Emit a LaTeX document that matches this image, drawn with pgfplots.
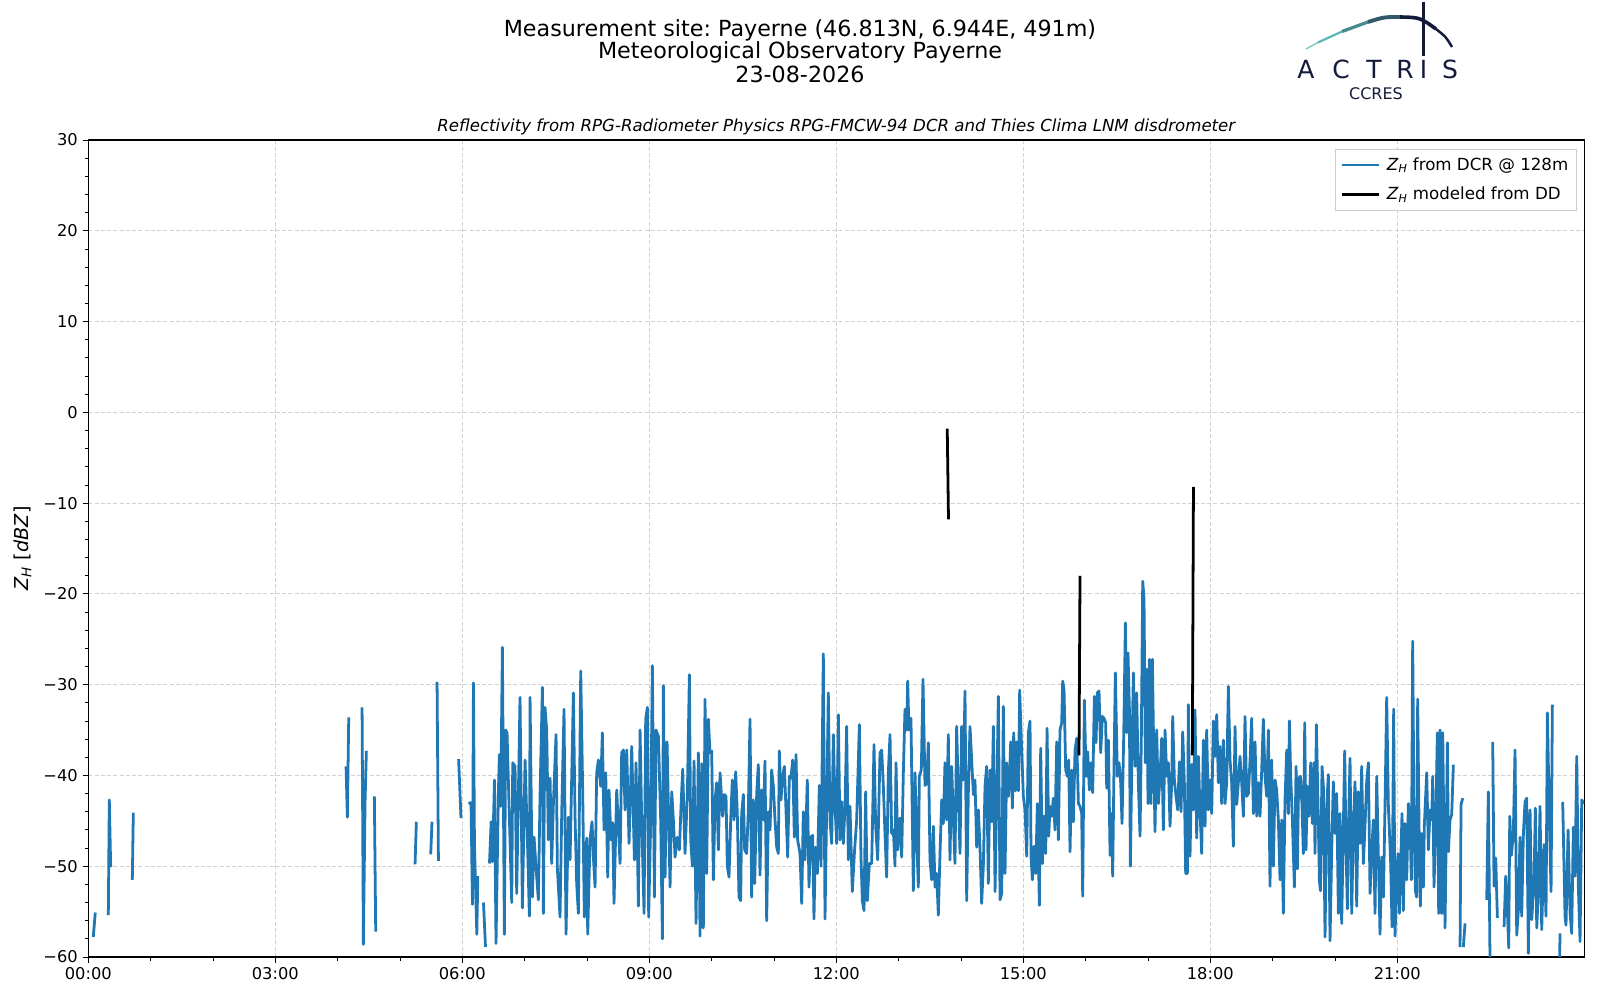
\documentclass[border=0pt]{standalone}
\usepackage{fontspec}
\setmainfont{DejaVu Sans}
\usepackage{pgfplots}
\pgfplotsset{compat=1.18}
\definecolor{mplblue}{HTML}{1F77B4}
\definecolor{navy}{HTML}{141A3A}
\definecolor{tealc}{HTML}{5CB8B2}
\newcommand\mminus{\char"2212\relax}
\frenchspacing
\begin{document}
\begin{tikzpicture}
\useasboundingbox (0,0) rectangle (1152pt,720pt);
\begin{axis}[
  at={(63.58pt,30.96pt)}, anchor=south west,
  width=1077.1pt, height=588.2pt, scale only axis,
  xmin=0, xmax=24, ymin=-60, ymax=30,
  xtick={0,3,...,21},
  xticklabels={00:00,03:00,06:00,09:00,12:00,15:00,18:00,21:00},
  ytick={-60,-50,...,30},
  yticklabels={\mminus60,\mminus50,\mminus40,\mminus30,\mminus20,\mminus10,0,10,20,30},
  minor x tick num=2, minor y tick num=4,
  tick align=outside, tick pos=left,
  major tick length=4.1pt, minor tick length=2.6pt,
  every tick/.style={black, line width=0.6pt},
  axis line style={line width=0.9pt},
  grid=major,
  major grid style={dash pattern=on 3pt off 1.5pt, color=black!18, line width=0.6pt},
  tick label style={font=\fontsize{11.7}{14}\selectfont},
  ylabel={\textit{Z}\textsubscript{\textit{H}} [\textit{dBZ}]},
  every axis y label/.style={at={(rel axis cs:0,0.5)}, anchor=center, rotate=90, yshift=47.4pt, font=\fontsize{13.8}{16}\selectfont},
  unbounded coords=jump,
  legend style={at={(0.9951,0.989)}, anchor=north east, draw=black!20, fill=white,
    font=\fontsize{12}{14}\selectfont, inner xsep=4pt, inner ysep=4pt, row sep=6.5pt, cells={anchor=west}},
  legend image code/.code={\draw[#1, line width=2.1pt, line cap=butt] (0pt,0pt) -- (26pt,0pt); \path (29pt,0pt);},
]
\addplot[mplblue, line width=2pt, line join=round] coordinates {
(0.080,-57.8) (0.112,-55.1) (0.2,nan)
(0.321,-55.4) (0.337,-42.7) (0.359,-50.1) (0.5,nan)
(0.706,-51.5) (0.722,-44.1) (1,nan)
(4.135,-39.0) (4.156,-44.6) (4.178,-33.6) (4.3,nan)
(4.392,-32.5) (4.413,-58.6) (4.440,-42.9) (4.461,-37.3) (4.5,nan)
(4.589,-42.3) (4.611,-57.2) (5,nan)
(5.242,-49.8) (5.263,-45.1) (5.4,nan)
(5.493,-48.7) (5.514,-45.1) (5.55,nan)
(5.595,-29.7) (5.617,-49.4) (5.8,nan)
(5.941,-38.2) (5.979,-44.7) (6.05,nan)
(6.100,-43.1) (6.140,-43.0) (6.163,-54.2) (6.179,-29.8) (6.195,-47.6) (6.233,-57.5) (6.249,-51.1) (6.3,nan)
(6.340,-54.0) (6.372,-58.9) (6.4,nan)
(6.436,-49.7) (6.463,-45.1) (6.484,-49.5) (6.516,-40.5) (6.541,-58.5)
(6.579,-41.8) (6.595,-37.7) (6.616,-43.4) (6.643,-25.9) (6.675,-57.5) (6.696,-35.0) (6.718,-35.3) (6.739,-40.5) (6.793,-54.0) (6.809,-38.6) (6.846,-39.0) (6.873,-53.0) (6.926,-31.4) (6.964,-54.6) (7.007,-38.3) (7.044,-46.9) (7.076,-55.5) (7.087,-31.4) (7.124,-53.4) (7.151,-46.8) (7.194,-51.2) (7.220,-53.7) (7.247,-42.3) (7.285,-30.3) (7.301,-55.2) (7.327,-32.5) (7.354,-35.0) (7.381,-47.1) (7.408,-40.3) (7.434,-49.7) (7.461,-43.2) (7.504,-35.5) (7.525,-50.2) (7.568,-55.6) (7.595,-44.2) (7.632,-32.7) (7.664,-57.5) (7.702,-44.6) (7.729,-49.3) (7.782,-30.9) (7.809,-44.6) (7.835,-51.9) (7.862,-55.2) (7.900,-28.5) (7.932,-42.0) (7.958,-55.6) (7.996,-46.9) (8.012,-57.5) (8.049,-47.1) (8.081,-45.1) (8.103,-49.0) (8.130,-52.3) (8.156,-39.7) (8.183,-38.3) (8.221,-41.2) (8.247,-35.3) (8.274,-46.0) (8.301,-39.7) (8.333,-51.2) (8.354,-41.6) (8.386,-47.1) (8.413,-45.2) (8.434,-54.1) (8.477,-41.6) (8.531,-49.7) (8.557,-37.5) (8.584,-37.2) (8.611,-43.8) (8.638,-37.2) (8.675,-47.5) (8.718,-36.8) (8.761,-49.3) (8.787,-38.6) (8.825,-54.4) (8.852,-35.0) (8.878,-44.9) (8.916,-55.2) (8.942,-33.8) (8.969,-32.5) (8.990,-55.6) (9.023,-44.9) (9.049,-27.9) (9.082,-53.4) (9.108,-35.0) (9.146,-35.7) (9.183,-45.0) (9.210,-58.0) (9.226,-30.1) (9.253,-51.2) (9.285,-36.3) (9.333,-52.3) (9.360,-41.8) (9.386,-44.9) (9.413,-49.0) (9.451,-46.8) (9.483,-48.2) (9.509,-43.4) (9.536,-39.3) (9.573,-48.6) (9.611,-42.0) (9.643,-28.9) (9.664,-47.1) (9.691,-50.0) (9.718,-38.4) (9.750,-56.3) (9.787,-37.5) (9.814,-57.7) (9.841,-38.7) (9.867,-56.8) (9.894,-31.6) (9.921,-50.8) (9.948,-33.8) (9.974,-37.5) (10.001,-37.3) (10.028,-51.5) (10.055,-42.7) (10.081,-40.8) (10.108,-48.2) (10.135,-39.7)
(10.177,-44.5) (10.204,-42.1) (10.231,-42.3) (10.252,-50.0) (10.279,-51.2) (10.306,-44.9) (10.332,-40.5) (10.359,-44.9) (10.386,-39.6) (10.412,-44.2) (10.439,-53.4) (10.466,-53.8) (10.482,-44.2) (10.509,-42.1) (10.530,-48.2) (10.562,-48.6) (10.589,-43.8) (10.616,-33.8) (10.642,-53.4) (10.669,-42.7) (10.691,-51.9) (10.723,-42.0) (10.749,-38.8) (10.776,-51.0) (10.803,-41.6) (10.830,-44.9) (10.856,-38.4) (10.883,-56.0) (10.910,-44.0) (10.937,-46.0) (10.963,-39.4) (10.990,-41.2) (11.017,-44.9) (11.044,-47.9) (11.070,-48.6) (11.086,-37.3) (11.113,-42.7) (11.140,-40.1) (11.167,-39.0) (11.193,-43.8) (11.220,-49.0) (11.247,-40.1) (11.273,-40.3) (11.300,-38.3) (11.327,-46.8) (11.354,-37.7) (11.380,-47.1) (11.418,-48.6) (11.445,-54.1) (11.471,-44.0) (11.498,-49.3) (11.535,-40.5) (11.562,-52.3) (11.589,-46.8) (11.621,-46.6) (11.642,-55.8) (11.664,-47.9) (11.696,-50.8) (11.728,-41.1) (11.755,-50.0) (11.792,-26.6) (11.819,-55.8) (11.846,-43.4) (11.872,-30.9) (11.899,-44.9) (11.926,-47.5) (11.953,-35.5) (11.979,-43.1) (12.006,-47.5) (12.033,-33.3) (12.060,-47.1) (12.086,-42.9) (12.113,-47.5) (12.140,-43.4) (12.166,-34.6) (12.193,-49.3) (12.220,-43.4) (12.257,-52.8) (12.290,-48.6) (12.327,-44.9) (12.370,-34.4) (12.396,-49.0) (12.418,-53.8) (12.445,-54.9) (12.471,-41.8) (12.498,-53.8) (12.530,-49.7) (12.568,-49.7) (12.605,-36.6) (12.632,-45.6) (12.664,-49.3) (12.701,-37.5) (12.728,-37.2) (12.755,-41.2) (12.781,-46.4) (12.808,-51.2) (12.835,-39.7) (12.862,-35.5) (12.888,-46.4) (12.915,-46.0) (12.942,-50.0) (12.958,-38.6) (12.985,-48.2) (13.022,-44.7) (13.049,-49.0) (13.076,-39.6) (13.102,-32.7) (13.129,-35.0) (13.145,-29.6) (13.166,-35.0) (13.198,-33.7) (13.236,-52.7) (13.263,-39.7) (13.289,-46.8) (13.316,-52.3) (13.332,-40.1) (13.364,-39.4) (13.391,-29.4) (13.423,-41.1) (13.450,-40.9) (13.477,-36.4) (13.503,-49.3) (13.530,-51.5) (13.557,-45.6) (13.584,-52.3) (13.610,-50.8) (13.637,-55.4) (13.664,-48.6) (13.691,-42.7) (13.717,-45.3) (13.744,-38.6) (13.771,-44.9) (13.797,-35.5) (13.824,-49.3) (13.851,-39.0) (13.878,-44.9) (13.904,-49.7) (13.931,-34.6) (13.958,-42.0) (13.985,-48.6) (14.011,-34.6) (14.038,-40.5) (14.065,-30.7) (14.092,-53.8) (14.118,-42.0) (14.145,-34.6) (14.172,-38.3) (14.199,-42.1) (14.225,-40.5) (14.252,-47.9) (14.279,-43.8) (14.305,-47.9) (14.332,-54.1) (14.359,-50.0) (14.386,-41.2) (14.412,-39.0) (14.439,-51.9) (14.466,-39.4)
(14.493,-45.1) (14.520,-34.6) (14.547,-52.8) (14.573,-42.3) (14.600,-31.3) (14.627,-53.7) (14.654,-53.0) (14.680,-32.4) (14.707,-50.8) (14.734,-38.6) (14.761,-42.3) (14.777,-40.8) (14.798,-36.3) (14.825,-43.6) (14.846,-35.3) (14.873,-41.7) (14.894,-36.3) (14.921,-41.7) (14.942,-30.6) (14.974,-37.2) (15.001,-42.3) (15.028,-43.8) (15.055,-48.9) (15.081,-35.3) (15.108,-34.0) (15.124,-48.9) (15.146,-51.5) (15.172,-47.8) (15.199,-50.8) (15.226,-43.1) (15.258,-54.3) (15.279,-37.0) (15.306,-49.7) (15.333,-44.5) (15.360,-48.6) (15.381,-34.8) (15.408,-46.7) (15.429,-43.4) (15.456,-44.5) (15.482,-42.5) (15.509,-46.0) (15.536,-36.3) (15.563,-47.1) (15.589,-35.0) (15.616,-34.2) (15.632,-29.6) (15.654,-30.6) (15.680,-39.4) (15.707,-40.1) (15.728,-38.3) (15.750,-48.4) (15.777,-39.4) (15.803,-45.1) (15.830,-37.2) (15.857,-35.9) (15.884,-43.1) (15.910,-43.4) (15.937,-44.2) (15.953,-53.3) (15.980,-31.7) (16.007,-40.1) (16.033,-37.4) (16.060,-41.6) (16.087,-38.6) (16.113,-41.9) (16.140,-31.3) (16.167,-36.4) (16.188,-30.9) (16.215,-30.7) (16.242,-37.5) (16.269,-33.5) (16.295,-33.7) (16.322,-34.2) (16.338,-41.4) (16.365,-36.1) (16.392,-48.8) (16.418,-44.2) (16.434,-51.1) (16.456,-38.6) (16.477,-28.7) (16.509,-40.1) (16.536,-38.6) (16.563,-40.8) (16.584,-45.3) (16.611,-35.7) (16.638,-23.2) (16.659,-35.3) (16.680,-26.5) (16.702,-32.6) (16.718,-50.0) (16.739,-39.4) (16.766,-28.7) (16.793,-39.0) (16.819,-30.9) (16.846,-40.8) (16.873,-46.7) (16.894,-35.7) (16.916,-18.6) (16.937,-20.6) (16.958,-38.6) (16.980,-28.3) (17.001,-43.1) (17.023,-27.2) (17.049,-43.1) (17.071,-27.2) (17.092,-37.2) (17.113,-46.2) (17.140,-35.0) (17.167,-43.1) (17.194,-40.1) (17.220,-35.9) (17.247,-46.0) (17.274,-35.0) (17.301,-40.1) (17.327,-38.6) (17.354,-45.6) (17.381,-40.8) (17.397,-33.5) (17.424,-40.5) (17.450,-42.3) (17.477,-43.8) (17.504,-38.5) (17.531,-44.0) (17.557,-35.2) (17.584,-40.8) (17.605,-50.8) (17.632,-50.8) (17.648,-32.2) (17.675,-48.9) (17.702,-38.8) (17.728,-43.8) (17.755,-32.8) (17.782,-46.9) (17.809,-37.9) (17.835,-43.8) (17.862,-48.6) (17.889,-36.1) (17.916,-45.6) (17.942,-35.0) (17.969,-43.8) (17.996,-40.5) (18.023,-44.2) (18.049,-34.0) (18.076,-37.9) (18.103,-33.3) (18.130,-40.8) (18.156,-36.8) (18.183,-43.1) (18.210,-36.1) (18.237,-43.1) (18.263,-40.8) (18.290,-30.2) (18.317,-38.3) (18.343,-40.8) (18.370,-47.8) (18.397,-34.6) (18.424,-43.2) (18.450,-40.8) (18.477,-37.9) (18.504,-40.8) (18.531,-44.5) (18.557,-33.5) (18.584,-42.3) (18.611,-42.0) (18.638,-38.3) (18.664,-33.7) (18.691,-44.2) (18.718,-36.3) (18.745,-44.5) (18.771,-40.8) (18.798,-44.5) (18.825,-39.4) (18.851,-33.8) (18.878,-40.1) (18.905,-42.3) (18.932,-35.0) (18.958,-52.2)
(18.985,-38.3) (19.012,-50.0) (19.039,-40.5) (19.065,-41.6) (19.092,-44.9) (19.119,-51.5) (19.146,-44.9) (19.172,-55.2) (19.199,-42.7) (19.226,-37.2) (19.253,-44.2) (19.269,-34.0) (19.290,-40.1) (19.317,-44.9) (19.349,-52.3) (19.376,-39.0) (19.397,-50.3) (19.418,-40.3) (19.445,-40.1) (19.472,-43.4) (19.493,-48.6) (19.515,-34.2) (19.536,-48.2) (19.557,-41.2) (19.584,-44.5) (19.611,-38.6) (19.638,-45.3) (19.664,-38.6) (19.680,-48.6) (19.702,-34.4) (19.728,-43.1) (19.750,-51.5) (19.766,-52.7) (19.793,-39.0) (19.814,-41.2) (19.841,-57.8) (19.868,-43.4) (19.894,-39.9) (19.921,-58.2) (19.948,-48.2) (19.974,-40.7) (20.001,-46.4) (20.028,-42.0) (20.055,-55.2) (20.081,-44.2) (20.108,-56.3) (20.135,-45.6) (20.156,-37.3) (20.178,-48.2) (20.199,-54.7) (20.220,-44.9) (20.242,-38.1) (20.269,-55.2) (20.295,-45.6) (20.322,-40.7) (20.349,-54.4) (20.375,-41.8) (20.402,-47.5) (20.429,-39.0) (20.456,-49.7) (20.482,-45.6) (20.509,-40.7) (20.536,-38.6) (20.563,-53.0) (20.589,-48.6) (20.616,-44.9) (20.643,-55.2) (20.670,-40.1) (20.696,-48.8) (20.723,-57.5) (20.750,-49.0) (20.777,-53.4) (20.803,-43.4) (20.830,-31.4) (20.857,-43.4) (20.873,-46.0) (20.894,-49.7) (20.916,-56.7) (20.942,-32.7) (20.964,-57.7) (20.991,-50.8) (21.012,-48.6) (21.033,-55.2) (21.055,-49.7) (21.076,-44.2) (21.097,-54.9) (21.124,-45.3) (21.151,-51.5) (21.178,-43.1) (21.204,-45.3) (21.226,-51.5) (21.247,-25.2) (21.269,-45.3) (21.290,-52.7) (21.311,-53.4) (21.327,-31.6) (21.349,-45.6) (21.370,-54.4) (21.392,-46.4) (21.418,-52.3) (21.434,-45.5) (21.472,-39.7) (21.499,-48.2) (21.525,-43.8) (21.552,-44.9) (21.568,-40.1) (21.589,-52.3) (21.616,-45.6) (21.643,-35.3) (21.664,-55.2)
(21.686,-35.0) (21.713,-55.2) (21.729,-35.3) (21.766,-56.8) (21.804,-36.4) (21.820,-48.4) (21.846,-44.9) (21.873,-44.3) (21.900,-38.8) (21.95,nan)
(22.007,-58.9) (22.023,-43.2) (22.050,-42.5) (22.055,nan)
(22.060,-58.9) (22.087,-56.3) (22.2,nan)
(22.435,-53.7) (22.461,-41.8) (22.490,-62) (22.51,nan)
(22.531,-36.3) (22.552,-52.2) (22.579,-49.1) (22.606,-55.7) (22.65,nan)
(22.713,-56.7) (22.739,-51.1) (22.766,-54.8) (22.788,-59.0) (22.804,-44.5) (22.830,-48.8) (22.862,-46.4) (22.889,-37.2) (22.916,-57.6) (22.943,-54.8) (22.969,-46.8) (22.996,-55.5) (23.023,-46.4) (23.050,-42.9) (23.076,-42.5) (23.103,-59.6) (23.130,-43.8) (23.157,-55.9) (23.194,-51.5) (23.215,-43.6) (23.237,-56.8) (23.263,-52.9) (23.290,-43.4) (23.317,-57.0) (23.354,-47.6) (23.386,-55.5) (23.408,-33.1) (23.440,-44.9) (23.467,-52.8) (23.488,-32.2) (23.55,nan)
(23.600,-62) (23.611,-57.4) (23.63,nan)
(23.654,-42.9) (23.691,-55.5) (23.707,-56.5) (23.740,-46.0) (23.772,-55.2) (23.798,-57.4) (23.825,-45.7) (23.852,-51.1) (23.879,-37.9) (23.905,-52.2) (23.932,-58.3) (23.959,-42.7) (23.996,-43.1)
};
\addlegendentry{\textit{Z}\textsubscript{\textit{H}} from DCR @ 128m}
\addplot[black, line width=2pt] coordinates {
(13.78,-1.8) (13.80,-11.8) (14.5,nan)
(15.894,-37.8) (15.910,-18.0) (16.5,nan)
(17.712,-37.8) (17.730,-8.2)
};
\addlegendentry{\textit{Z}\textsubscript{\textit{H}} modeled from DD}
\end{axis}
\begin{scope}[x=0.72pt,y=-0.72pt,shift={(0pt,720pt)}]
\node[font=\fontsize{16}{18}\selectfont] at (800,30) {Measurement site: Payerne (46.813N, 6.944E, 491m)};
\node[font=\fontsize{16}{18}\selectfont] at (800,52) {Meteorological Observatory Payerne};
\node[font=\fontsize{16}{18}\selectfont] at (800,74.5) {23-08-2026};
\node[font=\fontsize{11.95}{14}\selectfont\itshape] at (836.3,126.5) {Reflectivity from RPG-Radiometer Physics RPG-FMCW-94 DCR and Thies Clima LNM disdrometer};
% logo
\draw[tealc!80!white, line width=1pt] (1306,49) .. controls (1312,45.5) .. (1318,42.5);
\draw[tealc, line width=1.6pt] (1318,42.5) .. controls (1330,36.5) .. (1342,31.5);
\draw[tealc!70!navy, line width=2.3pt] (1342,31.5) .. controls (1355,26) .. (1368,22);
\draw[tealc!40!navy, line width=2.8pt] (1368,22) .. controls (1384,17) .. (1400,17);
\draw[navy, line width=2.6pt] (1400,17) .. controls (1420,17.5) .. (1436,29);
\draw[navy, line width=1.8pt] (1436,29) .. controls (1446,37) .. (1452,47);
\draw[navy, line width=1.5pt] (1423.5,2) -- (1423.5,56);
\begin{scope}[every node/.style={font=\fontsize{18}{20}\selectfont, text=navy, anchor=center}]
\node at (1306,69.5) {A};
\node at (1341,69.5) {C};
\node at (1374,69.5) {T};
\node at (1405,69.5) {R};
\node at (1423.5,69.5) {I};
\node at (1450,69.5) {S};
\end{scope}
\node[font=\fontsize{11.5}{14}\selectfont, text=navy] at (1376,93.5) {CCRES};
\end{scope}
\end{tikzpicture}
\end{document}
